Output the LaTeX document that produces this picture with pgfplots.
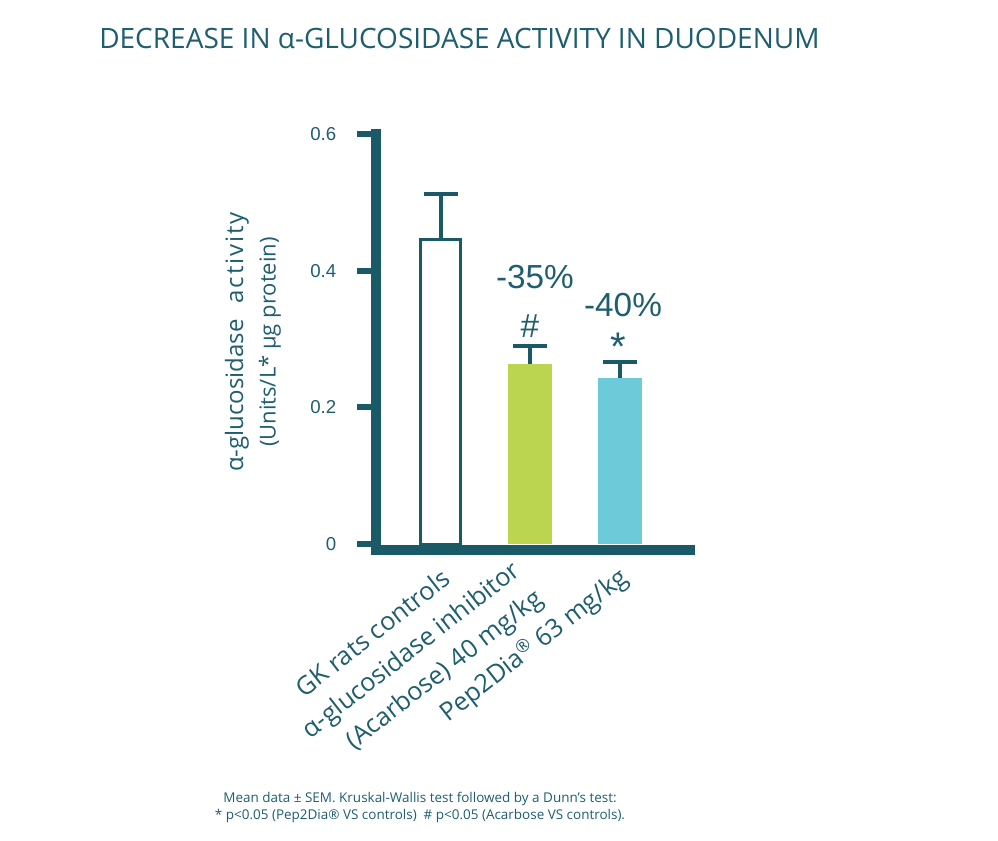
\documentclass[border=0pt]{standalone}
\usepackage{fontspec}
\setmainfont{Open Sans}
\newfontfamily\numfont{Liberation Sans}
\usepackage{pgfplots}
\pgfplotsset{compat=1.18}
\definecolor{tealax}{HTML}{1A5A67}
\definecolor{tealtx}{HTML}{1E5E6F}
\definecolor{barG}{HTML}{BCD550}
\definecolor{barB}{HTML}{6CCAD9}
\begin{document}
\begin{tikzpicture}
\path[use as bounding box] (0,0) rectangle (748.5pt,-630pt);
\node[anchor=base west, inner sep=0pt, font=\fontsize{21}{25}\selectfont, text=tealtx] at (74.25pt,-36pt) {DECREASE IN α-GLUCOSIDASE ACTIVITY IN DUODENUM};
\node[align=center, inner sep=0pt, font=\fontsize{10.1}{12.75}\selectfont, text=tealtx] at (315pt,-605.25pt) {Mean data ± SEM. Kruskal-Wallis test followed by a Dunn's test:\\ * p<0.05 (Pep2Dia® VS controls) \ \# p<0.05 (Acarbose VS controls).};
\begin{axis}[
  at={(282pt,-412.6pt)}, anchor=south west,
  scale only axis, width=235.5pt, height=312.1pt,
  xmin=-0.725, xmax=2.789, ymin=-0.009, ymax=0.6,
  axis x line*=bottom, axis y line*=left,
  axis line style={draw=tealax, line width=7.5pt, line cap=rect, -},
  every outer x axis line/.append style={-},
  every outer y axis line/.append style={-},
  ytick={0,0.2,0.4,0.6},
  tick align=outside, ytick pos=left,
  major tick length=14.25pt,
  y tick style={draw=tealax, line width=4.7pt},
  xtick={0,2}, x tick style={draw=none},
  xticklabels={{GK rats controls},{Pep2Dia\textsuperscript{®} 63 mg/kg}},
  extra x ticks={1},
  extra x tick labels={{α-glucosidase inhibitor\\(Acarbose) 40 mg/kg}},
  extra x tick style={x tick style={draw=none}, xticklabel style={xshift=-7.6pt, yshift=-1.5pt}},
  /pgf/number format/assume math mode=true,
  yticklabel style={font=\numfont\fontsize{14}{16}\selectfont, text=tealtx, xshift=-12pt},
  xticklabel style={font=\fontsize{19}{27}\selectfont, rotate=38, anchor=east, align=right, text=tealtx, xshift=4pt, yshift=-6pt},
  every axis y label/.style={at={(rel axis cs:-0.392,0.5)}, rotate=90, anchor=center, align=center},
  ylabel style={font=\fontsize{18}{24.4}\selectfont, text=tealtx},
  ylabel={α-glucosidase\hspace{0.65em}{\addfontfeature{LetterSpace=8}activity}\\{\fontsize{16.5}{24.4}\selectfont(Units/L* µg protein)}},
  clip=false,
]
\addplot[ybar, bar width=30pt, bar shift=0pt, fill=white, draw=tealax, line width=2.25pt,
  error bars/.cd, y dir=plus, y explicit, error mark=|,
  error bar style={line width=3pt, draw=tealax},
  error mark options={line width=3pt, mark size=12.75pt, draw=tealax}]
  coordinates {(0,0.445) +- (0,0.067)};
\addplot[ybar, bar width=33pt, bar shift=0pt, fill=barG, draw=none,
  error bars/.cd, y dir=plus, y explicit, error mark=|,
  error bar style={line width=3pt, draw=tealax},
  error mark options={line width=3pt, mark size=12.75pt, draw=tealax}]
  coordinates {(1,0.2635) +- (0,0.0265)};
\addplot[ybar, bar width=33pt, bar shift=0pt, fill=barB, draw=none,
  error bars/.cd, y dir=plus, y explicit, error mark=|,
  error bar style={line width=3pt, draw=tealax},
  error mark options={line width=3pt, mark size=12.75pt, draw=tealax}]
  coordinates {(2,0.243) +- (0,0.024)};
\node[text=tealtx, font=\numfont\fontsize{25}{30}\selectfont] at (axis cs:1.054,0.3907) {-35\%};
\node[text=tealtx, font=\numfont\fontsize{25}{30}\selectfont] at (axis cs:2.039,0.3498) {-40\%};
\node[text=tealtx, font=\numfont\fontsize{25}{30}\selectfont] at (axis cs:0.998,0.319) {\#};
\node[text=tealtx, font=\numfont\fontsize{30}{36}\selectfont] at (axis cs:1.983,0.288) {*};
\end{axis}
\end{tikzpicture}
\end{document}
